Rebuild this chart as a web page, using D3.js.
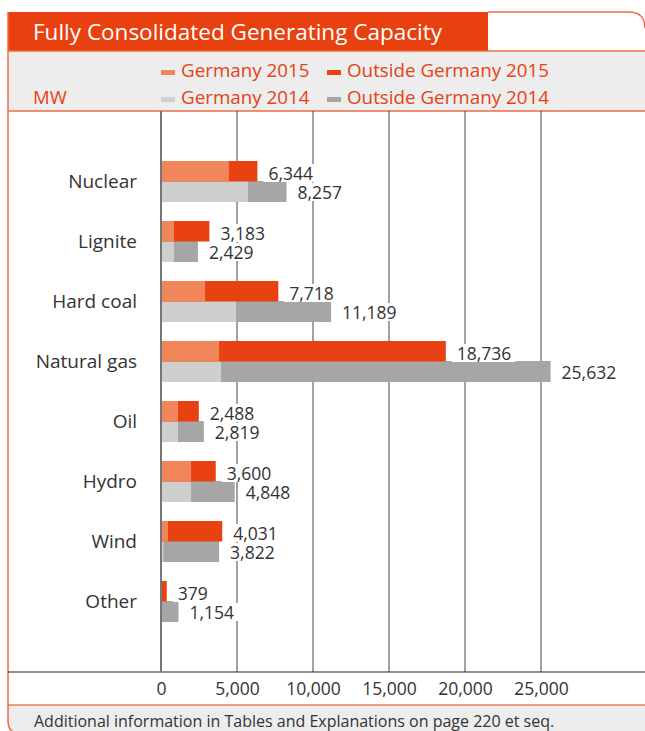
<!DOCTYPE html>
<html>
<head>
<meta charset="utf-8">
<script src="https://cdn.jsdelivr.net/npm/d3@7"></script>
<style>
  html, body { margin: 0; padding: 0; background: #fff; }
  svg { display: block; }
  text { font-family: "Open Sans", "Noto Sans", sans-serif; }
</style>
</head>
<body>
<svg id="chart" width="645" height="731"></svg>
<script>
// ---- data ----
const categories = ["Nuclear", "Lignite", "Hard coal", "Natural gas", "Oil", "Hydro", "Wind", "Other"];
const germany2015 = [4470, 860, 2900, 3820, 1120, 1980, 460, 30];
const total2015   = [6344, 3183, 7718, 18736, 2488, 3600, 4031, 379];
const germany2014 = [5720, 860, 4940, 3950, 1120, 1980, 160, 40];
const total2014   = [8257, 2429, 11189, 25632, 2819, 4848, 3822, 1154];
const tickValues  = [0, 5000, 10000, 15000, 20000, 25000];
const seriesNames = ["Germany 2015", "Outside Germany 2015", "Germany 2014", "Outside Germany 2014"];

const colors = {
  g15: "#F08659", o15: "#E84112", g14: "#CFCFCF", o14: "#A6A6A6",
  accent: "#E84112", frame: "#EE6B45", band: "#EDEDED", text: "#333333"
};

const svg = d3.select("#chart");
const fmt = d3.format(",");

// ---- frame ----
const L = 8, T = 12, R = 660;
svg.append("rect").attr("x", L).attr("y", 51).attr("width", R - L).attr("height", 60).attr("fill", colors.band);
svg.append("path").attr("d", `M${L},705 H${R} V731 H${L} Z`).attr("fill", colors.band);
svg.append("rect").attr("x", L).attr("y", T).attr("width", 488 - L).attr("height", 39).attr("fill", "#E8410F");
svg.append("path")
  .attr("d", `M488,${T} H${645 - 16} Q645,${T} 645,${T + 16}`)
  .attr("fill", "none").attr("stroke", colors.frame).attr("stroke-width", 1.5);
svg.append("path")
  .attr("d", `M${L},${T} V${731 - 10} Q${L},731 ${L + 10},735`)
  .attr("fill", "none").attr("stroke", colors.frame).attr("stroke-width", 1.5);
svg.append("line").attr("x1", L).attr("x2", R).attr("y1", 51).attr("y2", 51).attr("stroke", colors.frame).attr("stroke-width", 1.5);
svg.append("line").attr("x1", L).attr("x2", R).attr("y1", 111).attr("y2", 111).attr("stroke", colors.frame).attr("stroke-width", 1.5);
svg.append("line").attr("x1", L).attr("x2", R).attr("y1", 705).attr("y2", 705).attr("stroke", "#E84112").attr("stroke-width", 1.2);

// title
svg.append("text").attr("x", 33).attr("y", 40)
  .attr("fill", "#fff").attr("font-size", 22.5).text("Fully Consolidated Generating Capacity");

// legend
svg.append("text").attr("x", 33).attr("y", 104).attr("fill", colors.accent).attr("font-size", 18.5).text("MW");
const legendItems = [
  { name: seriesNames[0], color: colors.g15, x: 161, y: 77 },
  { name: seriesNames[1], color: colors.o15, x: 327, y: 77 },
  { name: seriesNames[2], color: colors.g14, x: 161, y: 104 },
  { name: seriesNames[3], color: colors.o14, x: 327, y: 104 }
];
const lg = svg.append("g").selectAll("g").data(legendItems).join("g");
lg.append("rect").attr("x", d => d.x).attr("y", d => d.y - 7).attr("width", 14).attr("height", 5).attr("fill", d => d.color);
lg.append("text").attr("x", d => d.x + 20).attr("y", d => d.y)
  .attr("fill", colors.accent).attr("font-size", 18.8).text(d => d.name);

// ---- scales ----
const x = d3.scaleLinear().domain([0, 25000]).range([161, 541]);
const y = d3.scaleBand().domain(categories).range([152, 632]);
const cy = c => y(c) + y.bandwidth() / 2;

// grid lines
svg.append("g").selectAll("line").data(tickValues.slice(1)).join("line")
  .attr("x1", d => x(d)).attr("x2", d => x(d)).attr("y1", 111).attr("y2", 672)
  .attr("stroke", "#444").attr("stroke-width", 1);

// axis tick labels
const axis = d3.axisBottom(x).tickValues(tickValues).tickSize(0).tickFormat(d => fmt(d));
const ag = svg.append("g").attr("transform", "translate(0,672)").call(axis);
ag.select(".domain").remove();
ag.selectAll("text").attr("font-size", 17.5).attr("fill", colors.text).attr("dy", 0).attr("y", 23)
  .attr("font-family", '"Open Sans", sans-serif');
svg.append("line").attr("x1", L).attr("x2", R).attr("y1", 672).attr("y2", 672).attr("stroke", "#222").attr("stroke-width", 1.2);

// rows
const rows = categories.map((c, i) => ({
  cat: c, g15: germany2015[i], t15: total2015[i], g14: germany2014[i], t14: total2014[i]
}));

const bars = svg.append("g");
bars.selectAll(".o14").data(rows).join("rect")
  .attr("x", x(0)).attr("y", d => cy(d.cat) - 1).attr("height", 21)
  .attr("width", d => x(d.t14) - x(0)).attr("fill", colors.o14);
bars.selectAll(".g14").data(rows).join("rect")
  .attr("x", x(0)).attr("y", d => cy(d.cat) - 1).attr("height", 21)
  .attr("width", d => x(d.g14) - x(0)).attr("fill", colors.g14);
bars.selectAll(".o15").data(rows).join("rect")
  .attr("x", x(0)).attr("y", d => cy(d.cat) - 21).attr("height", 20.5)
  .attr("width", d => x(d.t15) - x(0)).attr("fill", colors.o15);
bars.selectAll(".g15").data(rows).join("rect")
  .attr("x", x(0)).attr("y", d => cy(d.cat) - 21).attr("height", 20.5)
  .attr("width", d => x(d.g15) - x(0)).attr("fill", colors.g15);

// zero line
svg.append("line").attr("x1", x(0)).attr("x2", x(0)).attr("y1", 111).attr("y2", 672)
  .attr("stroke", "#777").attr("stroke-width", 2);

// value labels with white background
function addLabels(key, dyBase) {
  const g = svg.append("g");
  rows.forEach(d => {
    const lx = x(d[key]) + 11;
    const ly = cy(d.cat) + dyBase;
    const bg = g.append("rect").attr("fill", "#fff");
    const t = g.append("text").attr("x", lx).attr("y", ly)
      .attr("font-size", 17.5).attr("fill", colors.text).text(fmt(d[key]));
    const w = t.node().getComputedTextLength();
    bg.attr("x", lx - 5).attr("y", ly - 16).attr("width", w + 9).attr("height", 18);
  });
}
addLabels("t15", -2);
addLabels("t14", 17);

// category labels
svg.append("g").selectAll("text").data(categories).join("text")
  .attr("x", 137).attr("y", d => cy(d) + 6).attr("text-anchor", "end")
  .attr("font-size", 19).attr("fill", colors.text).text(d => d);

// footer
svg.append("text").attr("x", 34).attr("y", 727).attr("font-size", 16).attr("fill", colors.text)
  .text("Additional information in Tables and Explanations on page 220 et seq.");
</script>
</body>
</html>
